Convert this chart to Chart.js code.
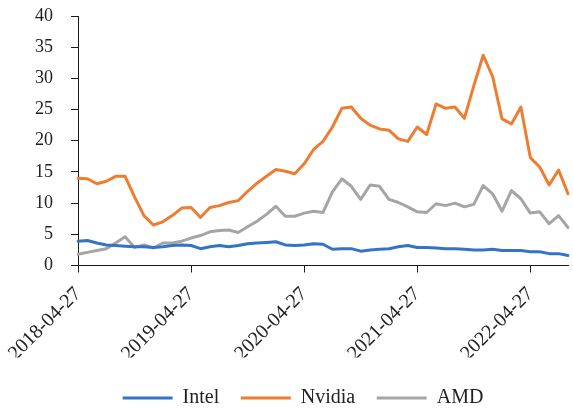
<!DOCTYPE html>
<html>
<head>
<meta charset="utf-8">
<title>Intel / Nvidia / AMD</title>
<script src="https://cdn.jsdelivr.net/npm/chart.js@4/dist/chart.umd.min.js"></script>
<style>
    html, body { margin: 0; padding: 0; background: #fff; overflow: hidden; }
    #wrap { width: 573px; height: 409px; }
</style>
</head>
<body>
<div id="wrap"><canvas id="lineChartCanvas" width="573" height="409"></canvas></div>
<script>
    "use strict";

    // monthly dates (category axis), one label shown per year
    var dates = [
        '2018-04-27','2018-05-27','2018-06-27','2018-07-27','2018-08-27','2018-09-27','2018-10-27','2018-11-27','2018-12-27',
        '2019-01-27','2019-02-27','2019-03-27','2019-04-27','2019-05-27','2019-06-27','2019-07-27','2019-08-27','2019-09-27',
        '2019-10-27','2019-11-27','2019-12-27','2020-01-27','2020-02-27','2020-03-27','2020-04-27','2020-05-27','2020-06-27',
        '2020-07-27','2020-08-27','2020-09-27','2020-10-27','2020-11-27','2020-12-27','2021-01-27','2021-02-27','2021-03-27',
        '2021-04-27','2021-05-27','2021-06-27','2021-07-27','2021-08-27','2021-09-27','2021-10-27','2021-11-27','2021-12-27',
        '2022-01-27','2022-02-27','2022-03-27','2022-04-27','2022-05-27','2022-06-27','2022-07-27','2022-08-27'
    ];

    var intel = [
        3.9, 4.0, 3.6, 3.3, 3.2, 3.1, 3.0, 3.0, 2.9, 3.0, 3.2, 3.3, 3.2, 2.7, 3.0, 3.2, 3.0, 3.2,
        3.5, 3.6, 3.7, 3.8, 3.3, 3.2, 3.3, 3.5, 3.4, 2.6, 2.7, 2.7, 2.3, 2.5, 2.6, 2.7, 3.0, 3.2,
        2.9, 2.9, 2.8, 2.7, 2.7, 2.6, 2.5, 2.5, 2.6, 2.4, 2.4, 2.4, 2.2, 2.2, 1.9, 1.9, 1.6
    ];

    var nvidia = [
        14.0, 13.9, 13.1, 13.5, 14.3, 14.3, 11.0, 8.0, 6.5, 7.0, 8.0, 9.2, 9.3, 7.7, 9.3, 9.6, 10.1, 10.4,
        11.9, 13.2, 14.3, 15.4, 15.1, 14.7, 16.3, 18.6, 19.9, 22.2, 25.2, 25.4, 23.6, 22.5, 21.9, 21.7, 20.3, 19.9,
        22.2, 21.0, 25.9, 25.2, 25.4, 23.6, 28.8, 33.7, 30.3, 23.5, 22.7, 25.4, 17.3, 15.8, 12.9, 15.3, 11.5
    ];

    var amd = [
        1.8, 2.1, 2.4, 2.7, 3.6, 4.6, 2.9, 3.3, 2.8, 3.6, 3.6, 3.9, 4.4, 4.8, 5.4, 5.6, 5.7, 5.3,
        6.2, 7.1, 8.2, 9.5, 7.9, 7.9, 8.4, 8.7, 8.5, 11.8, 13.9, 12.7, 10.6, 12.9, 12.7, 10.6, 10.1, 9.4,
        8.6, 8.5, 9.9, 9.6, 10.0, 9.4, 9.8, 12.8, 11.5, 8.7, 12.0, 10.7, 8.4, 8.6, 6.7, 8.0, 6.1
    ];

    var yTicks = [0, 5, 10, 15, 20, 25, 30, 35, 40];

    var textColor = '#222222';
    var axisColor = '#1a1a1a';

    Chart.defaults.font.family = "'Liberation Serif', 'Times New Roman', serif";
    Chart.defaults.font.size = 18;
    Chart.defaults.color = textColor;

    function series(label, data, color) {
        return {
            label: label,
            data: data,
            borderColor: color,
            backgroundColor: color,
            borderWidth: 3,
            borderCapStyle: 'round',
            borderJoinStyle: 'round',
            pointRadius: 0,
            pointHoverRadius: 0,
            tension: 0,
            fill: false
        };
    }

    // moves the legend a bit, excel puts it lower and more to the right
    var legendShift = {
        id: 'legendShift',
        afterLayout: function(chart) {
            var l = chart.legend;
            if (!l) { return; }
            l.top += 9; l.bottom += 9;
            l.left += 19; l.right += 19;
        }
    };

    var ctx = document.getElementById('lineChartCanvas');
    var lineChart = new Chart(ctx, {
        type: 'line',
        data: {
            labels: dates,
            datasets: [
                series('Intel', intel, '#3374C6'),
                series('Nvidia', nvidia, '#ED7D31'),
                series('AMD', amd, '#A5A5A5')
            ]
        },
        plugins: [legendShift],
        options: {
            responsive: false,
            animation: false,
            devicePixelRatio: 1,
            layout: { padding: { top: 16, right: 5, bottom: 0, left: 0 } },
            plugins: {
                tooltip: { enabled: false },
                legend: {
                    position: 'bottom',
                    labels: {
                        usePointStyle: true,
                        pointStyle: 'line',
                        pointStyleWidth: 50,
                        padding: 21.5,
                        color: textColor,
                        font: { size: 20 }
                    }
                }
            },
            scales: {
                x: {
                    offset: false,
                    afterBuildTicks: function(axis) {
                        // one tick per year
                        axis.ticks = axis.ticks.filter(function(t) { return t.value % 12 === 0; });
                    },
                    afterFit: function(axis) { axis.height = 92; },
                    grid: {
                        drawOnChartArea: false,
                        drawTicks: true,
                        tickLength: 7,
                        color: axisColor
                    },
                    border: { display: true, color: axisColor, width: 1 },
                    ticks: {
                        autoSkip: false,
                        maxRotation: 45,
                        minRotation: 45,
                        padding: 10,
                        color: textColor,
                        font: { size: 20 }
                    }
                },
                y: {
                    min: 0,
                    max: 40,
                    afterBuildTicks: function(axis) {
                        axis.ticks = yTicks.map(function(v) { return { value: v }; });
                    },
                    afterFit: function(axis) {
                        // fixed width, and the tick padding should not push the plot down
                        axis.width = 78;
                        axis.paddingTop = 0;
                        axis.paddingBottom = 0;
                    },
                    grid: {
                        drawOnChartArea: false,
                        drawTicks: true,
                        tickLength: 7,
                        color: axisColor
                    },
                    border: { display: true, color: axisColor, width: 1 },
                    ticks: {
                        padding: 18,
                        color: textColor
                    }
                }
            }
        }
    });
</script>
</body>
</html>
